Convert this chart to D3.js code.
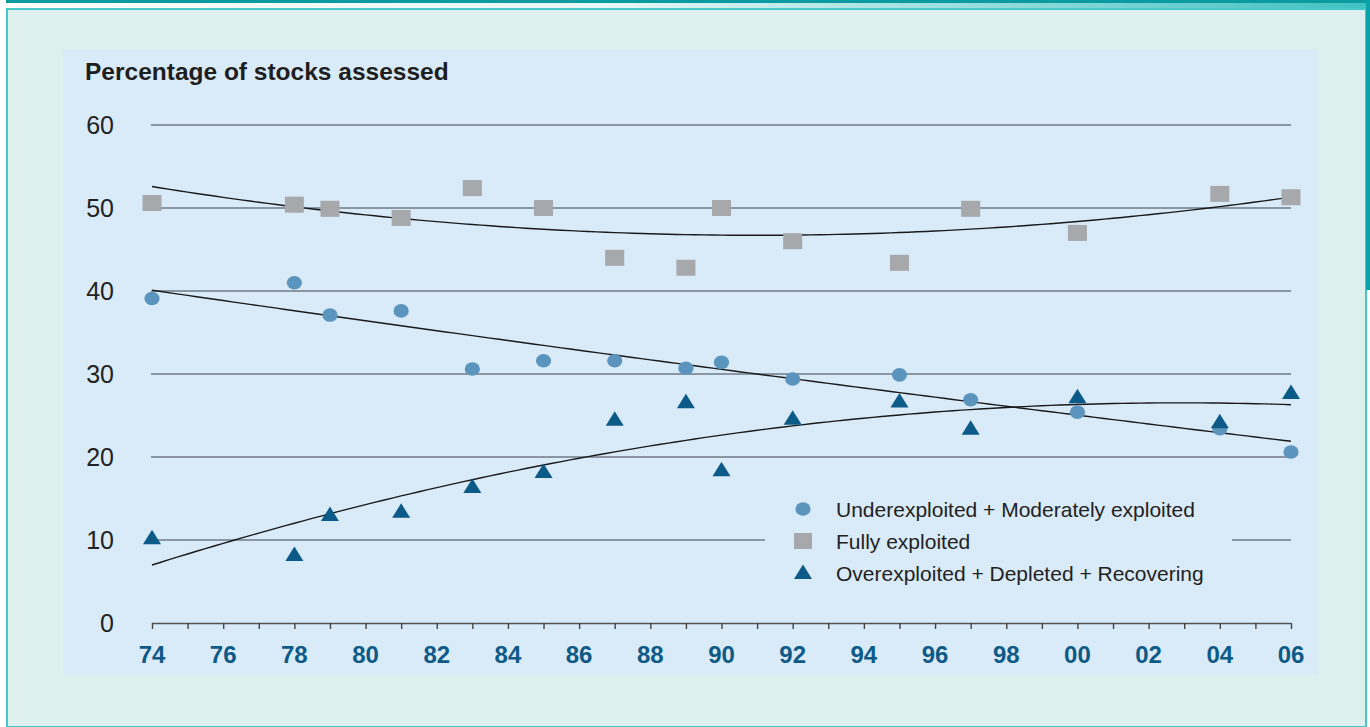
<!DOCTYPE html>
<html>
<head>
<meta charset="utf-8">
<script src="https://cdn.jsdelivr.net/npm/d3@7"></script>
<style>
  html, body { margin: 0; padding: 0; background: #ffffff; }
  svg { display: block; }
  text { font-family: "Liberation Sans", Arial, sans-serif; }
</style>
</head>
<body>
<svg id="chart" width="1370" height="727"></svg>
<script>
// Survey years of the stock assessments
const years = [1974, 1978, 1979, 1981, 1983, 1985, 1987, 1989, 1990, 1992, 1995, 1997, 2000, 2004, 2006];

// Share of assessed stocks (%) in each exploitation state
const underModerate = [39.1, 41.0, 37.1, 37.6, 30.6, 31.6, 31.6, 30.7, 31.4, 29.4, 29.9, 26.9, 25.4, 23.4, 20.6];
const fullyExploited = [50.6, 50.4, 49.9, 48.8, 52.4, 50.0, 44.0, 42.8, 50.0, 46.0, 43.4, 49.9, 47.0, 51.7, 51.3];
const overDepleted = [10.2, 8.2, 13.0, 13.4, 16.4, 18.2, 24.5, 26.6, 18.4, 24.6, 26.7, 23.4, 27.2, 24.2, 27.7];

const seriesNames = [
  "Underexploited + Moderately exploited",
  "Fully exploited",
  "Overexploited + Depleted + Recovering"
];

const yTicks = [0, 10, 20, 30, 40, 50, 60];
const xLabelYears = d3.range(1974, 2007, 2);
const xMinorYears = d3.range(1974, 2007, 1);

const svg = d3.select("#chart");
const W = 1370, H = 727;

// ---- frame ----
const defs = svg.append("defs");
const grad = defs.append("linearGradient").attr("id", "topFade").attr("x1", 0).attr("x2", 1).attr("y1", 0).attr("y2", 0);
grad.append("stop").attr("offset", "0").attr("stop-color", "#ffffff");
grad.append("stop").attr("offset", "0.45").attr("stop-color", "#e6f6f6");
grad.append("stop").attr("offset", "1").attr("stop-color", "#3fc1c2");

svg.append("rect").attr("x", 6).attr("y", 3).attr("width", W - 6).attr("height", 6).attr("fill", "url(#topFade)");
svg.append("rect").attr("x", 6).attr("y", 0).attr("width", W - 6).attr("height", 3).attr("fill", "#0a9a9f");
svg.append("rect").attr("x", 7).attr("y", 9).attr("width", 1359).attr("height", H - 9)
  .attr("fill", "#ddf0ee").attr("stroke", "#44c7c8").attr("stroke-width", 2);
svg.append("rect").attr("x", 1366).attr("y", 0).attr("width", 4).attr("height", 290).attr("fill", "#0aa3a9");

// ---- plot panel ----
svg.append("rect").attr("x", 63).attr("y", 50).attr("width", 1255).attr("height", 625).attr("fill", "#d9eaf8");

const x = d3.scaleLinear().domain([1974, 2006]).range([152, 1291]);
const y = d3.scaleLinear().domain([0, 60]).range([623, 125]);

// title
svg.append("text").attr("x", 85).attr("y", 80)
  .attr("font-size", 24.5).attr("font-weight", "bold").attr("fill", "#1e1e1e")
  .text("Percentage of stocks assessed");

// horizontal grid
svg.append("g").selectAll("line").data(yTicks.filter(d => d > 0)).join("line")
  .attr("x1", x(1974) - 1).attr("x2", x(2006))
  .attr("y1", d => y(d)).attr("y2", d => y(d))
  .attr("stroke", "#6f7a84").attr("stroke-width", 1.4);

// y tick labels
svg.append("g").selectAll("text").data(yTicks).join("text")
  .attr("x", 114).attr("y", d => y(d)).attr("dy", "0.36em")
  .attr("text-anchor", "end").attr("font-size", 25).attr("fill", "#222")
  .text(d => d);

// x axis
const xAxis = d3.axisBottom(x).tickValues(xMinorYears).tickSize(6).tickFormat("");
const gx = svg.append("g").attr("transform", `translate(0,${y(0)})`).call(xAxis);
gx.select(".domain").attr("stroke", "#555").attr("stroke-width", 1.4).attr("d", `M${x(1974)},0.5H${x(2006)}`);
gx.selectAll(".tick line").attr("stroke", "#444").attr("stroke-width", 1.4);

svg.append("g").selectAll("text").data(xLabelYears).join("text")
  .attr("x", d => x(d)).attr("y", 663)
  .attr("text-anchor", "middle").attr("font-size", 24).attr("font-weight", "bold").attr("fill", "#0e5a87")
  .text(d => String(d % 100).padStart(2, "0"));

// ---- quadratic trend fitted by least squares ----
function quadFit(xs, ys) {
  const x0 = 1974;
  const S = [0, 0, 0, 0, 0], T = [0, 0, 0];
  xs.forEach((xv, i) => {
    const t = xv - x0;
    for (let k = 0; k <= 4; k++) S[k] += Math.pow(t, k);
    for (let k = 0; k <= 2; k++) T[k] += ys[i] * Math.pow(t, k);
  });
  const A = [[S[0], S[1], S[2], T[0]], [S[1], S[2], S[3], T[1]], [S[2], S[3], S[4], T[2]]];
  for (let c = 0; c < 3; c++) {
    for (let r = c + 1; r < 3; r++) {
      const f = A[r][c] / A[c][c];
      for (let k = c; k < 4; k++) A[r][k] -= f * A[c][k];
    }
  }
  const b = [0, 0, 0];
  for (let r = 2; r >= 0; r--) {
    let s = A[r][3];
    for (let k = r + 1; k < 3; k++) s -= A[r][k] * b[k];
    b[r] = s / A[r][r];
  }
  return xv => { const t = xv - x0; return b[0] + b[1] * t + b[2] * t * t; };
}

const trendYears = d3.range(1974, 2006.01, 0.25);
const line = d3.line().x(d => x(d[0])).y(d => y(d[1]));
[fullyExploited, underModerate, overDepleted].forEach(vals => {
  const f = quadFit(years, vals);
  svg.append("path").datum(trendYears.map(t => [t, f(t)]))
    .attr("d", line).attr("fill", "none").attr("stroke", "#1a1a1a").attr("stroke-width", 1.4);
});

// ---- markers ----
const colCircle = "#5b95bd", colSquare = "#a7a8ab", colTri = "#0b5a87";
const triPath = "M0,-8.5L9,6L-9,6Z";

svg.append("g").selectAll("rect").data(years).join("rect")
  .attr("x", (d) => x(d) - 9.5).attr("y", (d, i) => y(fullyExploited[i]) - 8)
  .attr("width", 19).attr("height", 16).attr("fill", colSquare);

svg.append("g").selectAll("ellipse").data(years).join("ellipse")
  .attr("cx", d => x(d)).attr("cy", (d, i) => y(underModerate[i]))
  .attr("rx", 7.6).attr("ry", 6.8).attr("fill", colCircle);

svg.append("g").selectAll("path").data(years).join("path")
  .attr("transform", (d, i) => `translate(${x(d)},${y(overDepleted[i])})`)
  .attr("d", triPath).attr("fill", colTri);

// ---- legend ----
const lg = svg.append("g");
lg.append("rect").attr("x", 765).attr("y", 488).attr("width", 467).attr("height", 104).attr("fill", "#d9eaf8");
const rowY = [509, 541, 573];
lg.append("ellipse").attr("cx", 803).attr("cy", rowY[0]).attr("rx", 7.6).attr("ry", 6.8).attr("fill", colCircle);
lg.append("rect").attr("x", 794).attr("y", rowY[1] - 8).attr("width", 18).attr("height", 16).attr("fill", colSquare);
lg.append("path").attr("transform", `translate(803,${rowY[2]})`).attr("d", triPath).attr("fill", colTri);
lg.selectAll("text").data(seriesNames).join("text")
  .attr("x", 836).attr("y", (d, i) => rowY[i] + 8)
  .attr("font-size", 21).attr("fill", "#222")
  .text(d => d);
</script>
</body>
</html>
